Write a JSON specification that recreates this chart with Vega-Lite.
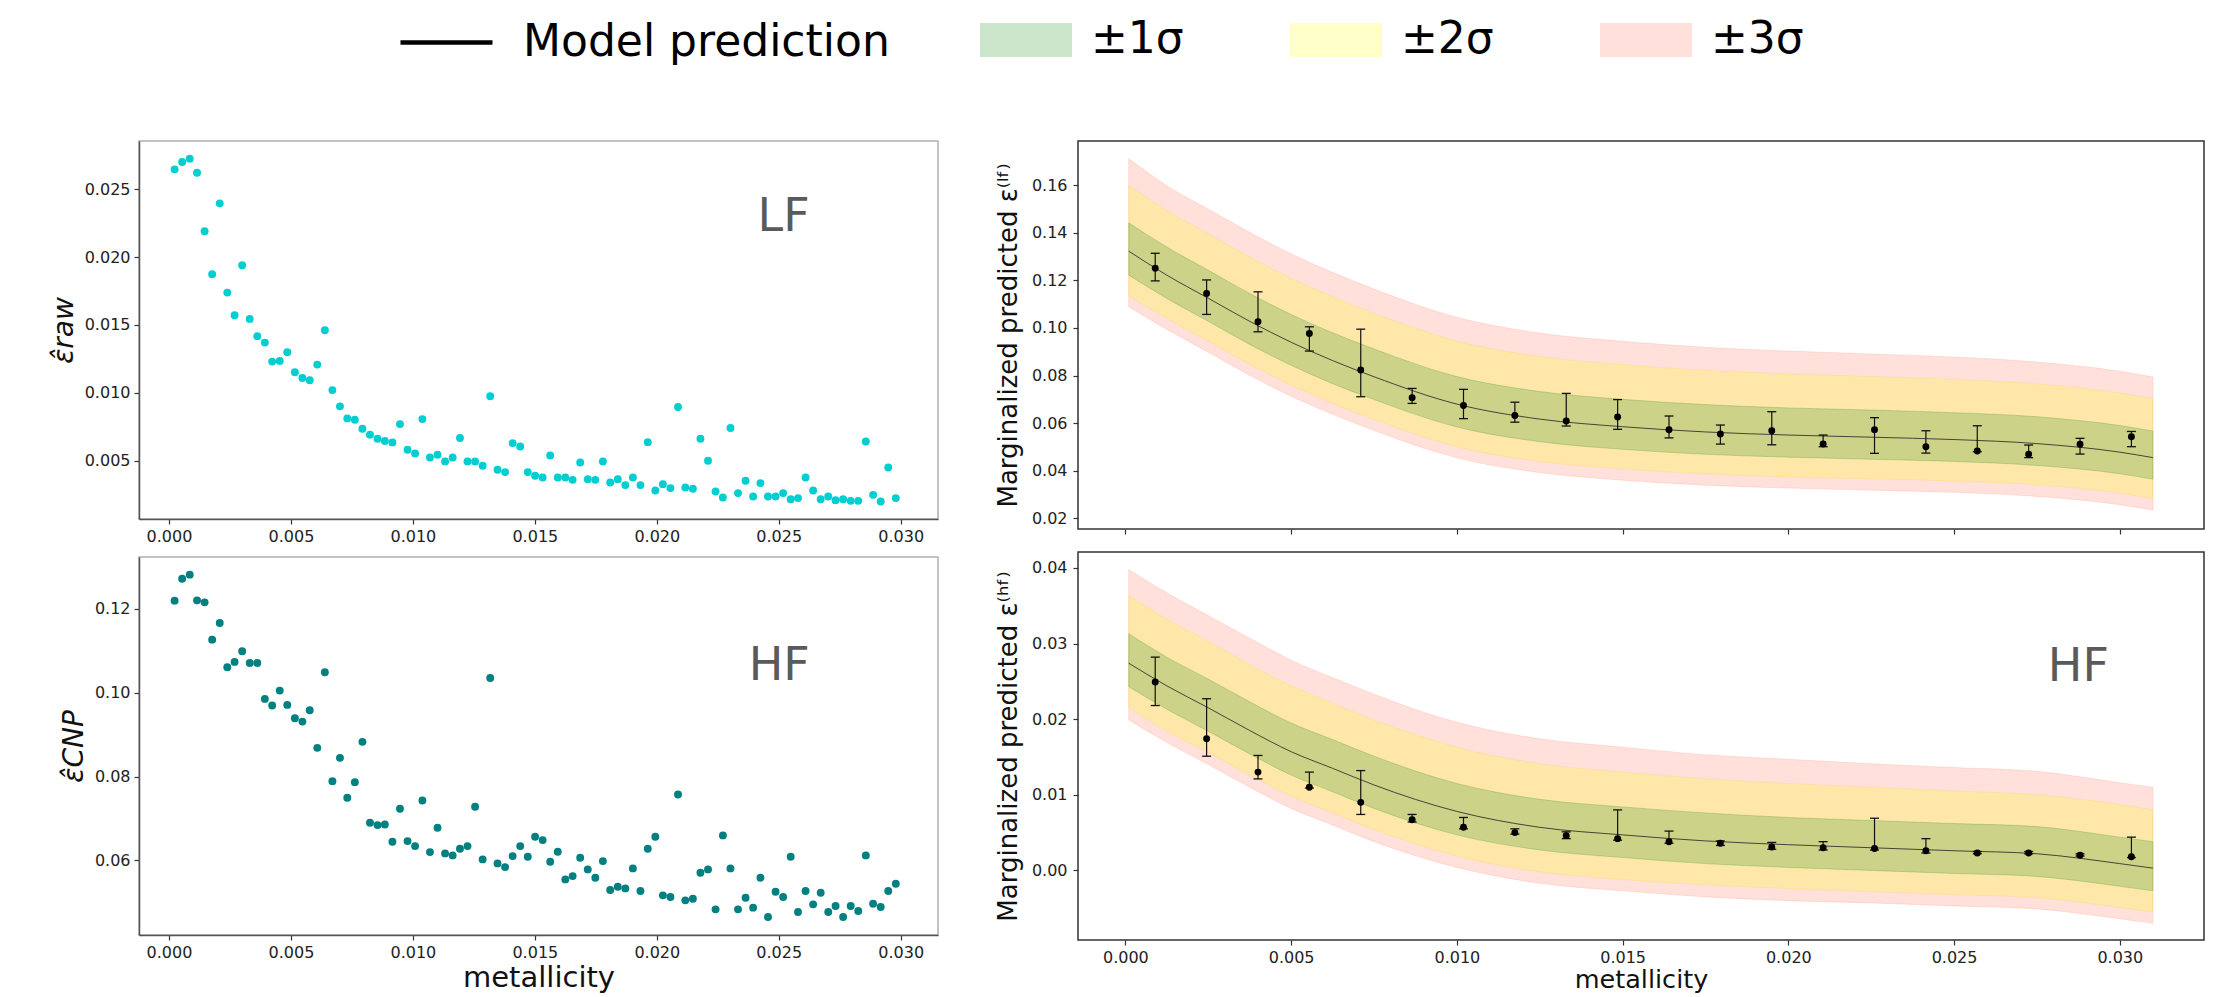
{
  "$schema": "https://vega.github.io/schema/vega-lite/v6.json",
  "autosize": {"type": "pad"},
  "padding": {"left": 49, "top": 14, "right": 5, "bottom": 0},
  "background": "white",
  "config": {
    "font": "DejaVu Sans",
    "view": {"stroke": "#333333", "strokeWidth": 1.3},
    "axis": {"grid": false, "domain": false, "labelFont": "DejaVu Sans", "labelFontSize": 16, "labelColor": "#222222", "labelPadding": 4, "labelFlush": false, "labelOverlap": false, "tickColor": "#333333", "tickSize": 5, "tickWidth": 1.2, "titleFont": "DejaVu Sans", "titleFontWeight": "normal", "titleColor": "#111111"},
    "legend": {"labelFont": "DejaVu Sans"}
  },
  "datasets": {
    "scatter": [
      {"x":0.00023,"lf":0.02648,"hf":0.12198},{"x":0.00054,"lf":0.02702,"hf":0.12722},{"x":0.00085,"lf":0.02727,"hf":0.12818},{"x":0.00115,"lf":0.02623,"hf":0.12206},{"x":0.00146,"lf":0.02192,"hf":0.12158},{"x":0.00177,"lf":0.01875,"hf":0.11268},{"x":0.00208,"lf":0.02397,"hf":0.11666},{"x":0.00239,"lf":0.01739,"hf":0.10609},{"x":0.00269,"lf":0.01572,"hf":0.10736},{"x":0.003,"lf":0.01941,"hf":0.1099},
      {"x":0.00331,"lf":0.01545,"hf":0.10712},{"x":0.00362,"lf":0.01417,"hf":0.10712},{"x":0.00393,"lf":0.0137,"hf":0.09854},{"x":0.00423,"lf":0.0123,"hf":0.09695},{"x":0.00454,"lf":0.01235,"hf":0.10052},{"x":0.00485,"lf":0.01299,"hf":0.09711},{"x":0.00516,"lf":0.01151,"hf":0.09393},{"x":0.00547,"lf":0.01109,"hf":0.09313},{"x":0.00577,"lf":0.01092,"hf":0.09584},{"x":0.00608,"lf":0.01208,"hf":0.08686},
      {"x":0.00639,"lf":0.01461,"hf":0.10489},{"x":0.0067,"lf":0.0102,"hf":0.07891},{"x":0.00701,"lf":0.009,"hf":0.08447},{"x":0.00731,"lf":0.00811,"hf":0.07494},{"x":0.00762,"lf":0.00801,"hf":0.07867},{"x":0.00793,"lf":0.00735,"hf":0.08829},{"x":0.00824,"lf":0.00691,"hf":0.06898},{"x":0.00855,"lf":0.00661,"hf":0.06842},{"x":0.00885,"lf":0.00644,"hf":0.06858},{"x":0.00916,"lf":0.00634,"hf":0.06445},
      {"x":0.00947,"lf":0.00769,"hf":0.07232},{"x":0.00978,"lf":0.0058,"hf":0.06461},{"x":0.01009,"lf":0.00553,"hf":0.06342},{"x":0.01039,"lf":0.00806,"hf":0.0743},{"x":0.0107,"lf":0.00523,"hf":0.06199},{"x":0.01101,"lf":0.00543,"hf":0.06779},{"x":0.01132,"lf":0.00494,"hf":0.06167},{"x":0.01163,"lf":0.00523,"hf":0.06119},{"x":0.01193,"lf":0.00666,"hf":0.06278},{"x":0.01224,"lf":0.00494,"hf":0.06342},
      {"x":0.01255,"lf":0.00494,"hf":0.07279},{"x":0.01286,"lf":0.00462,"hf":0.06024},{"x":0.01317,"lf":0.00974,"hf":0.10354},{"x":0.01347,"lf":0.00432,"hf":0.05928},{"x":0.01378,"lf":0.00415,"hf":0.05841},{"x":0.01409,"lf":0.00629,"hf":0.06103},{"x":0.0144,"lf":0.00604,"hf":0.06342},{"x":0.01471,"lf":0.00415,"hf":0.06087},{"x":0.01501,"lf":0.00388,"hf":0.06564},{"x":0.01532,"lf":0.00375,"hf":0.06485},
      {"x":0.01563,"lf":0.00538,"hf":0.05968},{"x":0.01594,"lf":0.00375,"hf":0.06207},{"x":0.01625,"lf":0.00375,"hf":0.05547},{"x":0.01655,"lf":0.00358,"hf":0.05626},{"x":0.01686,"lf":0.00486,"hf":0.06064},{"x":0.01717,"lf":0.00363,"hf":0.05785},{"x":0.01748,"lf":0.00358,"hf":0.05587},{"x":0.01779,"lf":0.00494,"hf":0.05984},{"x":0.01809,"lf":0.00338,"hf":0.05293},{"x":0.0184,"lf":0.00363,"hf":0.05372},
      {"x":0.01871,"lf":0.00319,"hf":0.05332},{"x":0.01902,"lf":0.00375,"hf":0.05809},{"x":0.01933,"lf":0.00319,"hf":0.05269},{"x":0.01963,"lf":0.00636,"hf":0.06278},{"x":0.01994,"lf":0.00279,"hf":0.06564},{"x":0.02025,"lf":0.00326,"hf":0.05166},{"x":0.02056,"lf":0.00297,"hf":0.05126},{"x":0.02087,"lf":0.00895,"hf":0.07573},{"x":0.02117,"lf":0.00302,"hf":0.05047},{"x":0.02148,"lf":0.00292,"hf":0.05086},
      {"x":0.02179,"lf":0.00661,"hf":0.05706},{"x":0.0221,"lf":0.00499,"hf":0.05785},{"x":0.02241,"lf":0.00272,"hf":0.04832},{"x":0.02271,"lf":0.00228,"hf":0.06596},{"x":0.02302,"lf":0.0074,"hf":0.05809},{"x":0.02333,"lf":0.0026,"hf":0.04832},{"x":0.02364,"lf":0.00351,"hf":0.0511},{"x":0.02395,"lf":0.00235,"hf":0.04872},{"x":0.02425,"lf":0.00334,"hf":0.05587},{"x":0.02456,"lf":0.00235,"hf":0.04649},
      {"x":0.02487,"lf":0.00235,"hf":0.05253},{"x":0.02518,"lf":0.0026,"hf":0.05126},{"x":0.02549,"lf":0.00215,"hf":0.06087},{"x":0.02579,"lf":0.00223,"hf":0.04768},{"x":0.0261,"lf":0.00375,"hf":0.05269},{"x":0.02641,"lf":0.00279,"hf":0.04951},{"x":0.02672,"lf":0.00215,"hf":0.05229},{"x":0.02703,"lf":0.00235,"hf":0.04768},{"x":0.02733,"lf":0.00208,"hf":0.04911},{"x":0.02764,"lf":0.00215,"hf":0.04649},
      {"x":0.02795,"lf":0.00203,"hf":0.04911},{"x":0.02826,"lf":0.00203,"hf":0.04792},{"x":0.02857,"lf":0.00641,"hf":0.06119},{"x":0.02887,"lf":0.00247,"hf":0.04967},{"x":0.02918,"lf":0.00198,"hf":0.04887},{"x":0.02949,"lf":0.00449,"hf":0.05269},{"x":0.0298,"lf":0.00223,"hf":0.05444}
    ],
    "bandL": [
      {"x":0.0001,"rb":0.1089,"yb":0.1135,"gb":0.1222,"m":0.1323,"gt":0.1442,"yt":0.16,"rt":0.1712},
      {"x":0.00125,"rb":0.0994,"yb":0.104,"gb":0.1124,"m":0.1222,"gt":0.134,"yt":0.1494,"rt":0.1598},
      {"x":0.0025,"rb":0.0898,"yb":0.0944,"gb":0.1028,"m":0.1125,"gt":0.1243,"yt":0.1396,"rt":0.15},
      {"x":0.00375,"rb":0.0801,"yb":0.0847,"gb":0.0931,"m":0.1028,"gt":0.1145,"yt":0.1298,"rt":0.1402},
      {"x":0.005,"rb":0.0713,"yb":0.076,"gb":0.0843,"m":0.094,"gt":0.1057,"yt":0.1209,"rt":0.1312},
      {"x":0.00625,"rb":0.0637,"yb":0.0683,"gb":0.0766,"m":0.0863,"gt":0.098,"yt":0.1131,"rt":0.1234},
      {"x":0.0075,"rb":0.0569,"yb":0.0615,"gb":0.0699,"m":0.0795,"gt":0.0912,"yt":0.1062,"rt":0.1164},
      {"x":0.01,"rb":0.0454,"yb":0.0501,"gb":0.0584,"m":0.068,"gt":0.0796,"yt":0.0945,"rt":0.1045},
      {"x":0.0125,"rb":0.0392,"yb":0.0439,"gb":0.0522,"m":0.0617,"gt":0.0733,"yt":0.088,"rt":0.0979},
      {"x":0.015,"rb":0.036,"yb":0.0408,"gb":0.049,"m":0.0585,"gt":0.07,"yt":0.0846,"rt":0.0944},
      {"x":0.0175,"rb":0.0339,"yb":0.0387,"gb":0.0469,"m":0.0563,"gt":0.0678,"yt":0.0822,"rt":0.0919},
      {"x":0.02,"rb":0.0327,"yb":0.0374,"gb":0.0457,"m":0.055,"gt":0.0664,"yt":0.0807,"rt":0.0903},
      {"x":0.0225,"rb":0.0318,"yb":0.0366,"gb":0.0448,"m":0.0541,"gt":0.0655,"yt":0.0796,"rt":0.0891},
      {"x":0.025,"rb":0.0309,"yb":0.0357,"gb":0.0439,"m":0.0531,"gt":0.0644,"yt":0.0784,"rt":0.0878},
      {"x":0.0275,"rb":0.0292,"yb":0.0341,"gb":0.0422,"m":0.0514,"gt":0.0627,"yt":0.0765,"rt":0.0857},
      {"x":0.03,"rb":0.0257,"yb":0.0306,"gb":0.0387,"m":0.0478,"gt":0.059,"yt":0.0727,"rt":0.0818},
      {"x":0.031,"rb":0.0234,"yb":0.0283,"gb":0.0364,"m":0.0455,"gt":0.0567,"yt":0.0703,"rt":0.0794}
    ],
    "bandH": [
      {"x":0.0001,"rb":0.0199,"yb":0.0215,"gb":0.0243,"m":0.0274,"gt":0.0313,"yt":0.0363,"rt":0.0398},
      {"x":0.00125,"rb":0.0169,"yb":0.0184,"gb":0.0213,"m":0.0244,"gt":0.0282,"yt":0.0332,"rt":0.0367},
      {"x":0.0025,"rb":0.014,"yb":0.0156,"gb":0.0184,"m":0.0215,"gt":0.0253,"yt":0.0303,"rt":0.0337},
      {"x":0.00375,"rb":0.011,"yb":0.0126,"gb":0.0154,"m":0.0185,"gt":0.0223,"yt":0.0272,"rt":0.0307},
      {"x":0.005,"rb":0.0082,"yb":0.0098,"gb":0.0126,"m":0.0157,"gt":0.0195,"yt":0.0244,"rt":0.0278},
      {"x":0.00625,"rb":0.006,"yb":0.0076,"gb":0.0104,"m":0.0135,"gt":0.0173,"yt":0.0221,"rt":0.0255},
      {"x":0.0075,"rb":0.0038,"yb":0.0054,"gb":0.0082,"m":0.0113,"gt":0.0151,"yt":0.0199,"rt":0.0233},
      {"x":0.01,"rb":0.0004,"yb":0.0019,"gb":0.0047,"m":0.0078,"gt":0.0115,"yt":0.0163,"rt":0.0196},
      {"x":0.0125,"rb":-0.0017,"yb":-0.0002,"gb":0.0027,"m":0.0057,"gt":0.0094,"yt":0.0141,"rt":0.0174},
      {"x":0.015,"rb":-0.0027,"yb":-0.0012,"gb":0.0017,"m":0.0047,"gt":0.0084,"yt":0.013,"rt":0.0163},
      {"x":0.0175,"rb":-0.0035,"yb":-0.0019,"gb":0.0009,"m":0.0039,"gt":0.0076,"yt":0.0121,"rt":0.0153},
      {"x":0.02,"rb":-0.004,"yb":-0.0024,"gb":0.0004,"m":0.0034,"gt":0.007,"yt":0.0115,"rt":0.0147},
      {"x":0.0225,"rb":-0.0043,"yb":-0.0028,"gb":0.0,"m":0.003,"gt":0.0066,"yt":0.011,"rt":0.0141},
      {"x":0.025,"rb":-0.0047,"yb":-0.0032,"gb":-0.0004,"m":0.0026,"gt":0.0062,"yt":0.0105,"rt":0.0136},
      {"x":0.0275,"rb":-0.0051,"yb":-0.0036,"gb":-0.0008,"m":0.0022,"gt":0.0058,"yt":0.01,"rt":0.0131},
      {"x":0.03,"rb":-0.0064,"yb":-0.0049,"gb":-0.0021,"m":0.0009,"gt":0.0044,"yt":0.0087,"rt":0.0116},
      {"x":0.031,"rb":-0.007,"yb":-0.0055,"gb":-0.0027,"m":0.0003,"gt":0.0038,"yt":0.008,"rt":0.011}
    ],
    "ptsL": [
      {"x":0.0009,"v":0.1251,"lo":0.1198,"hi":0.1314},{"x":0.00245,"v":0.1145,"lo":0.1057,"hi":0.1202},{"x":0.004,"v":0.1026,"lo":0.0984,"hi":0.1152},{"x":0.00555,"v":0.0977,"lo":0.0903,"hi":0.1005},{"x":0.0071,"v":0.0823,"lo":0.0711,"hi":0.0995},
      {"x":0.00865,"v":0.0707,"lo":0.0683,"hi":0.0746},{"x":0.0102,"v":0.0674,"lo":0.0619,"hi":0.0742},{"x":0.01175,"v":0.0632,"lo":0.0604,"hi":0.0688},{"x":0.0133,"v":0.0609,"lo":0.0588,"hi":0.0725},{"x":0.01485,"v":0.0626,"lo":0.0574,"hi":0.0699},
      {"x":0.0164,"v":0.0572,"lo":0.0538,"hi":0.063},{"x":0.01795,"v":0.0554,"lo":0.0512,"hi":0.0592},{"x":0.0195,"v":0.0568,"lo":0.0509,"hi":0.0648},{"x":0.02105,"v":0.0512,"lo":0.0501,"hi":0.055},{"x":0.0226,"v":0.0572,"lo":0.0473,"hi":0.0623},
      {"x":0.02415,"v":0.0501,"lo":0.0474,"hi":0.0568},{"x":0.0257,"v":0.0483,"lo":0.048,"hi":0.0589},{"x":0.02725,"v":0.0469,"lo":0.0455,"hi":0.0508},{"x":0.0288,"v":0.0511,"lo":0.047,"hi":0.0536},{"x":0.03035,"v":0.0543,"lo":0.0501,"hi":0.0565}
    ],
    "ptsH": [
      {"x":0.0009,"v":0.0249,"lo":0.0218,"hi":0.0282},{"x":0.00245,"v":0.0174,"lo":0.0151,"hi":0.0227},{"x":0.004,"v":0.013,"lo":0.0121,"hi":0.0152},{"x":0.00555,"v":0.011,"lo":0.0109,"hi":0.013},{"x":0.0071,"v":0.009,"lo":0.0074,"hi":0.0132},
      {"x":0.00865,"v":0.0067,"lo":0.0064,"hi":0.0074},{"x":0.0102,"v":0.0057,"lo":0.0055,"hi":0.007},{"x":0.01175,"v":0.005,"lo":0.0048,"hi":0.0055},{"x":0.0133,"v":0.0046,"lo":0.0042,"hi":0.0051},{"x":0.01485,"v":0.0042,"lo":0.004,"hi":0.008},
      {"x":0.0164,"v":0.0038,"lo":0.0036,"hi":0.0052},{"x":0.01795,"v":0.0036,"lo":0.0033,"hi":0.0039},{"x":0.0195,"v":0.0031,"lo":0.0028,"hi":0.0037},{"x":0.02105,"v":0.003,"lo":0.0027,"hi":0.0038},{"x":0.0226,"v":0.0029,"lo":0.0027,"hi":0.0069},
      {"x":0.02415,"v":0.0026,"lo":0.0023,"hi":0.0042},{"x":0.0257,"v":0.0023,"lo":0.0022,"hi":0.0025},{"x":0.02725,"v":0.0023,"lo":0.0022,"hi":0.0025},{"x":0.0288,"v":0.002,"lo":0.0019,"hi":0.0022},{"x":0.03035,"v":0.0018,"lo":0.0017,"hi":0.0044}
    ],
    "legendItems": [{"s":"Model prediction","b":"±1σ"},{"s":"Model prediction","b":"±2σ"},{"s":"Model prediction","b":"±3σ"}]
  },
  "spacing": 119,
  "vconcat": [
    {
      "width": 1, "height": 1,
      "view": {"stroke": null},
      "data": {"name": "legendItems"},
      "mark": {"type": "point", "opacity": 0, "filled": false},
      "encoding": {
        "stroke": {
          "field": "s", "type": "nominal",
          "scale": {"domain": ["Model prediction"], "range": ["#000000"]},
          "legend": {"title": null, "orient": "none", "legendX": 282, "legendY": 0, "symbolType": "M-2,0H2", "symbolSize": 2116, "symbolStrokeWidth": 4.5, "symbolOpacity": 1, "symbolFillColor": "transparent", "labelFontSize": 44, "labelLimit": 1000, "labelOffset": 51, "labelColor": "#000000", "padding": 0}
        },
        "fill": {
          "field": "b", "type": "nominal",
          "scale": {"domain": ["±1σ", "±2σ", "±3σ"], "range": ["#cce6cc", "#ffffc8", "#ffe0da"]},
          "legend": {"title": null, "orient": "none", "legendX": 864, "legendY": 0, "direction": "horizontal", "symbolType": "M-2,-0.74H2V0.74H-2Z", "symbolSize": 2116, "symbolStrokeWidth": 0, "symbolOpacity": 1, "labelFontSize": 44, "labelLimit": 1000, "labelOffset": 42, "columnPadding": 106, "labelColor": "#000000", "padding": 0}
        }
      }
    },
    {
      "spacing": 55,
      "hconcat": [
        {
          "bounds": "flush",
          "spacing": 38,
          "vconcat": [
            {
              "width": 799, "height": 378,
              "view": {"stroke": "#b0b0b0", "strokeWidth": 1.5},
              "encoding": {
                "x": {"field": "x", "type": "quantitative", "scale": {"domain": [-0.00123, 0.03153], "nice": false, "zero": false}, "axis": {"values": [0, 0.005, 0.01, 0.015, 0.02, 0.025, 0.03], "format": ".3f", "title": null, "domain": true, "domainColor": "#555555", "domainWidth": 1.5}}
              },
              "layer": [
                {
                  "data": {"name": "scatter"},
                  "mark": {"type": "circle", "color": "#00ced1", "size": 62, "opacity": 1},
                  "encoding": {
                    "y": {"field": "lf", "type": "quantitative", "scale": {"domain": [0.00069, 0.02857], "nice": false, "zero": false}, "axis": {"values": [0.005, 0.01, 0.015, 0.02, 0.025], "format": ".3f", "title": "ε̂raw", "titleFontSize": 28, "titleFontStyle": "italic", "titlePadding": 6, "domain": true, "domainColor": "#555555", "domainWidth": 1.5}}
                  }
                },
                {
                  "data": {"values": [{"x": 0.0252, "lf": 0.0219, "label": "LF"}]},
                  "mark": {"type": "text", "fontSize": 46, "color": "#5a5a5a", "align": "center", "baseline": "alphabetic"},
                  "encoding": {
                    "y": {"field": "lf", "type": "quantitative", "title": "ε̂raw"},
                    "text": {"field": "label"}
                  }
                }
              ]
            },
            {
              "width": 799, "height": 378,
              "view": {"stroke": "#b0b0b0", "strokeWidth": 1.5},
              "encoding": {
                "x": {"field": "x", "type": "quantitative", "scale": {"domain": [-0.00123, 0.03153], "nice": false, "zero": false}, "axis": {"values": [0, 0.005, 0.01, 0.015, 0.02, 0.025, 0.03], "format": ".3f", "title": "metallicity", "titleFontSize": 29, "titlePadding": 3, "domain": true, "domainColor": "#555555", "domainWidth": 1.5}}
              },
              "layer": [
                {
                  "data": {"name": "scatter"},
                  "mark": {"type": "circle", "color": "#008080", "size": 62, "opacity": 1},
                  "encoding": {
                    "y": {"field": "hf", "type": "quantitative", "scale": {"domain": [0.0422, 0.1324], "nice": false, "zero": false}, "axis": {"values": [0.06, 0.08, 0.1, 0.12], "format": ".2f", "title": "ε̂CNP", "titleFontSize": 28, "titleFontStyle": "italic", "titlePadding": 6, "domain": true, "domainColor": "#555555", "domainWidth": 1.5}}
                  }
                },
                {
                  "data": {"values": [{"x": 0.02502, "hf": 0.1031, "label": "HF"}]},
                  "mark": {"type": "text", "fontSize": 46, "color": "#5a5a5a", "align": "center", "baseline": "alphabetic"},
                  "encoding": {
                    "y": {"field": "hf", "type": "quantitative", "title": "ε̂CNP"},
                    "text": {"field": "label"}
                  }
                }
              ]
            }
          ]
        },
        {
          "bounds": "flush",
          "spacing": 23,
          "vconcat": [
            {
              "width": 1126, "height": 388,
              "view": {"stroke": "#333333", "strokeWidth": 1.5},
              "encoding": {
                "x": {"field": "x", "type": "quantitative", "scale": {"domain": [-0.00143, 0.03254], "nice": false, "zero": false}, "axis": {"values": [0, 0.005, 0.01, 0.015, 0.02, 0.025, 0.03], "labels": false, "title": null}}
              },
              "layer": [
                {
                  "data": {"name": "bandL"},
                  "mark": {"type": "area", "color": "#ff6347", "fillOpacity": 0.2, "stroke": "#ff6347", "strokeOpacity": 0.15, "strokeWidth": 1, "interpolate": "monotone"},
                  "encoding": {
                    "y": {"field": "rb", "type": "quantitative", "title": "Marginalized predicted ε⁽ˡᶠ⁾", "scale": {"domain": [0.0155, 0.1786], "nice": false, "zero": false}, "axis": {"values": [0.02, 0.04, 0.06, 0.08, 0.1, 0.12, 0.14, 0.16], "format": ".2f", "titleFontSize": 26, "titlePadding": 10, "labelPadding": 6}},
                    "y2": {"field": "rt"}
                  }
                },
                {
                  "data": {"name": "bandL"},
                  "mark": {"type": "area", "color": "#ffff00", "fillOpacity": 0.22, "stroke": "#f0d000", "strokeOpacity": 0.15, "strokeWidth": 1, "interpolate": "monotone"},
                  "encoding": {
                    "y": {"field": "yb", "type": "quantitative", "title": "Marginalized predicted ε⁽ˡᶠ⁾"},
                    "y2": {"field": "yt"}
                  }
                },
                {
                  "data": {"name": "bandL"},
                  "mark": {"type": "area", "color": "#008000", "fillOpacity": 0.2, "stroke": "#008000", "strokeOpacity": 0.2, "strokeWidth": 1, "interpolate": "monotone"},
                  "encoding": {
                    "y": {"field": "gb", "type": "quantitative", "title": "Marginalized predicted ε⁽ˡᶠ⁾"},
                    "y2": {"field": "gt"}
                  }
                },
                {
                  "data": {"name": "bandL"},
                  "mark": {"type": "line", "color": "#222222", "strokeWidth": 1, "opacity": 0.8, "interpolate": "monotone"},
                  "encoding": {
                    "y": {"field": "m", "type": "quantitative", "title": "Marginalized predicted ε⁽ˡᶠ⁾"}
                  }
                },
                {
                  "data": {"name": "ptsL"},
                  "mark": {"type": "rule", "color": "#111111", "strokeWidth": 1.2},
                  "encoding": {
                    "y": {"field": "lo", "type": "quantitative", "title": "Marginalized predicted ε⁽ˡᶠ⁾"},
                    "y2": {"field": "hi"}
                  }
                },
                {
                  "data": {"name": "ptsL"},
                  "mark": {"type": "tick", "orient": "horizontal", "size": 9, "thickness": 1.3, "color": "#111111", "opacity": 1},
                  "encoding": {
                    "y": {"field": "hi", "type": "quantitative", "title": "Marginalized predicted ε⁽ˡᶠ⁾"}
                  }
                },
                {
                  "data": {"name": "ptsL"},
                  "mark": {"type": "tick", "orient": "horizontal", "size": 9, "thickness": 1.3, "color": "#111111", "opacity": 1},
                  "encoding": {
                    "y": {"field": "lo", "type": "quantitative", "title": "Marginalized predicted ε⁽ˡᶠ⁾"}
                  }
                },
                {
                  "data": {"name": "ptsL"},
                  "mark": {"type": "circle", "color": "#000000", "size": 48, "opacity": 1},
                  "encoding": {
                    "y": {"field": "v", "type": "quantitative", "title": "Marginalized predicted ε⁽ˡᶠ⁾"}
                  }
                }
              ]
            },
            {
              "width": 1126, "height": 388,
              "view": {"stroke": "#333333", "strokeWidth": 1.5},
              "encoding": {
                "x": {"field": "x", "type": "quantitative", "scale": {"domain": [-0.00143, 0.03254], "nice": false, "zero": false}, "axis": {"values": [0, 0.005, 0.01, 0.015, 0.02, 0.025, 0.03], "format": ".3f", "title": "metallicity", "titleFontSize": 25.5, "titlePadding": 2}}
              },
              "layer": [
                {
                  "data": {"name": "bandH"},
                  "mark": {"type": "area", "color": "#ff6347", "fillOpacity": 0.2, "stroke": "#ff6347", "strokeOpacity": 0.15, "strokeWidth": 1, "interpolate": "monotone"},
                  "encoding": {
                    "y": {"field": "rb", "type": "quantitative", "title": "Marginalized predicted ε⁽ʰᶠ⁾", "scale": {"domain": [-0.0092, 0.0421], "nice": false, "zero": false}, "axis": {"values": [0, 0.01, 0.02, 0.03, 0.04], "format": ".2f", "titleFontSize": 26, "titlePadding": 10, "labelPadding": 6}},
                    "y2": {"field": "rt"}
                  }
                },
                {
                  "data": {"name": "bandH"},
                  "mark": {"type": "area", "color": "#ffff00", "fillOpacity": 0.22, "stroke": "#f0d000", "strokeOpacity": 0.15, "strokeWidth": 1, "interpolate": "monotone"},
                  "encoding": {
                    "y": {"field": "yb", "type": "quantitative", "title": "Marginalized predicted ε⁽ʰᶠ⁾"},
                    "y2": {"field": "yt"}
                  }
                },
                {
                  "data": {"name": "bandH"},
                  "mark": {"type": "area", "color": "#008000", "fillOpacity": 0.2, "stroke": "#008000", "strokeOpacity": 0.2, "strokeWidth": 1, "interpolate": "monotone"},
                  "encoding": {
                    "y": {"field": "gb", "type": "quantitative", "title": "Marginalized predicted ε⁽ʰᶠ⁾"},
                    "y2": {"field": "gt"}
                  }
                },
                {
                  "data": {"name": "bandH"},
                  "mark": {"type": "line", "color": "#222222", "strokeWidth": 1, "opacity": 0.8, "interpolate": "monotone"},
                  "encoding": {
                    "y": {"field": "m", "type": "quantitative", "title": "Marginalized predicted ε⁽ʰᶠ⁾"}
                  }
                },
                {
                  "data": {"name": "ptsH"},
                  "mark": {"type": "rule", "color": "#111111", "strokeWidth": 1.2},
                  "encoding": {
                    "y": {"field": "lo", "type": "quantitative", "title": "Marginalized predicted ε⁽ʰᶠ⁾"},
                    "y2": {"field": "hi"}
                  }
                },
                {
                  "data": {"name": "ptsH"},
                  "mark": {"type": "tick", "orient": "horizontal", "size": 9, "thickness": 1.3, "color": "#111111", "opacity": 1},
                  "encoding": {
                    "y": {"field": "hi", "type": "quantitative", "title": "Marginalized predicted ε⁽ʰᶠ⁾"}
                  }
                },
                {
                  "data": {"name": "ptsH"},
                  "mark": {"type": "tick", "orient": "horizontal", "size": 9, "thickness": 1.3, "color": "#111111", "opacity": 1},
                  "encoding": {
                    "y": {"field": "lo", "type": "quantitative", "title": "Marginalized predicted ε⁽ʰᶠ⁾"}
                  }
                },
                {
                  "data": {"name": "ptsH"},
                  "mark": {"type": "circle", "color": "#000000", "size": 48, "opacity": 1},
                  "encoding": {
                    "y": {"field": "v", "type": "quantitative", "title": "Marginalized predicted ε⁽ʰᶠ⁾"}
                  }
                },
                {
                  "data": {"values": [{"x": 0.02875, "v": 0.025, "label": "HF"}]},
                  "mark": {"type": "text", "fontSize": 46, "color": "#5a5a5a", "align": "center", "baseline": "alphabetic"},
                  "encoding": {
                    "y": {"field": "v", "type": "quantitative", "title": "Marginalized predicted ε⁽ʰᶠ⁾"},
                    "text": {"field": "label"}
                  }
                }
              ]
            }
          ]
        }
      ]
    }
  ]
}
